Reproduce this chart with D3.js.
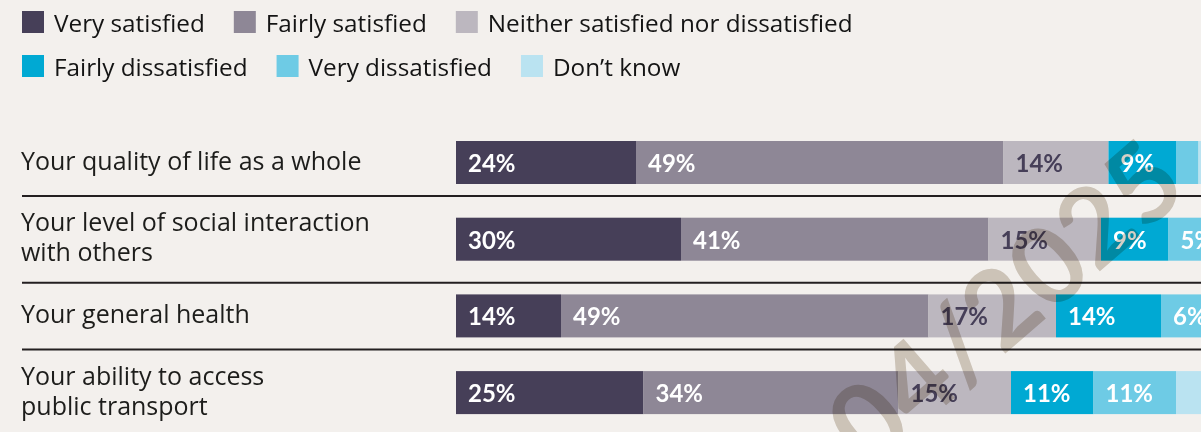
<!DOCTYPE html>
<html>
<head>
<meta charset="utf-8">
<script src="https://cdn.jsdelivr.net/npm/d3@7"></script>
<style>
  html, body { margin: 0; padding: 0; background: #f3f0ed; }
  svg { display: block; }
  .watermark { mix-blend-mode: multiply; }
</style>
</head>
<body>
<svg id="chart" width="1201" height="432"></svg>
<script>
// Survey questions (row labels, wrapped as printed)
const categories = [
  "Your quality of life as a whole",
  "Your level of social interaction with others",
  "Your general health",
  "Your ability to access public transport"
];
const labelLines = [
  ["Your quality of life as a whole"],
  ["Your level of social interaction", "with others"],
  ["Your general health"],
  ["Your ability to access", "public transport"]
];

// Response options, in stacking order
const responses = [
  "Very satisfied",
  "Fairly satisfied",
  "Neither satisfied nor dissatisfied",
  "Fairly dissatisfied",
  "Very dissatisfied",
  "Don\u2019t know"
];

// Percent of respondents per question
const verySatisfied      = [24, 30, 14, 25];
const fairlySatisfied    = [49, 41, 49, 34];
const neither            = [14, 15, 17, 15];
const fairlyDissatisfied = [ 9,  9, 14, 11];
const veryDissatisfied   = [ 3,  5,  6, 11];
const dontKnow           = [ 1,  0,  0,  4];

const watermarkText = "04/2025";

// ---- styling ----
const palette = ["#463f58", "#8e8796", "#bcb7bf", "#00a9d3", "#6ecbe5", "#bae3f1"];
const labelInk = ["#ffffff", "#ffffff", "#463f58", "#ffffff", "#ffffff", "#463f58"];
const legendRows = [[0, 1, 2], [3, 4, 5]];

const seriesValues = [verySatisfied, fairlySatisfied, neither, fairlyDissatisfied, veryDissatisfied, dontKnow];
const table = categories.map((c, i) => {
  const row = { category: c };
  responses.forEach((r, k) => { row[r] = seriesValues[k][i]; });
  return row;
});

const svg = d3.select("#chart");
const stacked = d3.stack().keys(responses)(table);

const x = d3.scaleLinear().domain([0, 100]).range([456, 1206]);
const y = d3.scaleBand().domain(categories).range([141, 414.1]).paddingInner(0.4394).paddingOuter(0);
const color = d3.scaleOrdinal().domain(responses).range(palette);
const ink = d3.scaleOrdinal().domain(responses).range(labelInk);

// ---- legend ----
const legend = svg.append("g").attr("font-family", "'Open Sans', sans-serif").attr("font-size", 24.3);
legendRows.forEach((row, ri) => {
  let cx = 22;
  const top = 11 + ri * 44;
  row.forEach(k => {
    const g = legend.append("g");
    g.append("rect").attr("x", cx).attr("y", top).attr("width", 22).attr("height", 22)
      .attr("fill", palette[k]);
    const t = g.append("text").attr("x", cx + 32).attr("y", top + 20.5)
      .attr("fill", "#141414").text(responses[k]);
    cx += 32 + t.node().getComputedTextLength() + 29;
  });
});

// ---- row labels & separators ----
const rows = svg.append("g");
categories.forEach((c, i) => {
  const lines = labelLines[i];
  const mid = y(c) + y.bandwidth() / 2;
  const t = rows.append("text")
    .attr("font-family", "'Open Sans', sans-serif").attr("font-size", 25).attr("fill", "#1d1d1b");
  lines.forEach((ln, j) => {
    const base = lines.length === 1 ? mid + 7.5 : mid - 8 + j * 30;
    t.append("tspan").attr("x", 21).attr("y", base).text(ln);
  });
  const sepY = y(c) + y.bandwidth() + (lines.length === 1 ? 12 : 22);
  rows.append("line").attr("x1", 22).attr("x2", 1201).attr("y1", sepY).attr("y2", sepY)
    .attr("stroke", "#231f20").attr("stroke-width", 2);
});

// ---- stacked bars ----
const layers = svg.append("g").selectAll("g").data(stacked).join("g")
  .attr("fill", d => color(d.key));
layers.selectAll("rect").data(d => d).join("rect")
  .attr("x", d => x(d[0]))
  .attr("y", d => y(d.data.category))
  .attr("width", d => x(d[1]) - x(d[0]))
  .attr("height", y.bandwidth());

// value labels (segments of 5% or more)
const valueLabels = svg.append("g").attr("font-family", "Lato, sans-serif")
  .attr("font-size", 24).attr("font-weight", 700);
stacked.forEach(layer => {
  layer.forEach(d => {
    const v = d.data[layer.key];
    if (v < 5) return;
    valueLabels.append("text")
      .attr("x", x(d[0]) + 12)
      .attr("y", y(d.data.category) + y.bandwidth() / 2 + 9.5)
      .attr("fill", ink(layer.key))
      .text(v + "%");
  });
});

// ---- date stamp ----
svg.append("text").attr("class", "watermark")
  .attr("transform", "translate(1003,300) rotate(-41)")
  .attr("text-anchor", "middle").attr("dominant-baseline", "central")
  .attr("font-family", "Lato, sans-serif").attr("font-size", 108).attr("font-weight", 700)
  .attr("fill", "#d6cfc5")
  .text(watermarkText);
</script>
</body>
</html>
